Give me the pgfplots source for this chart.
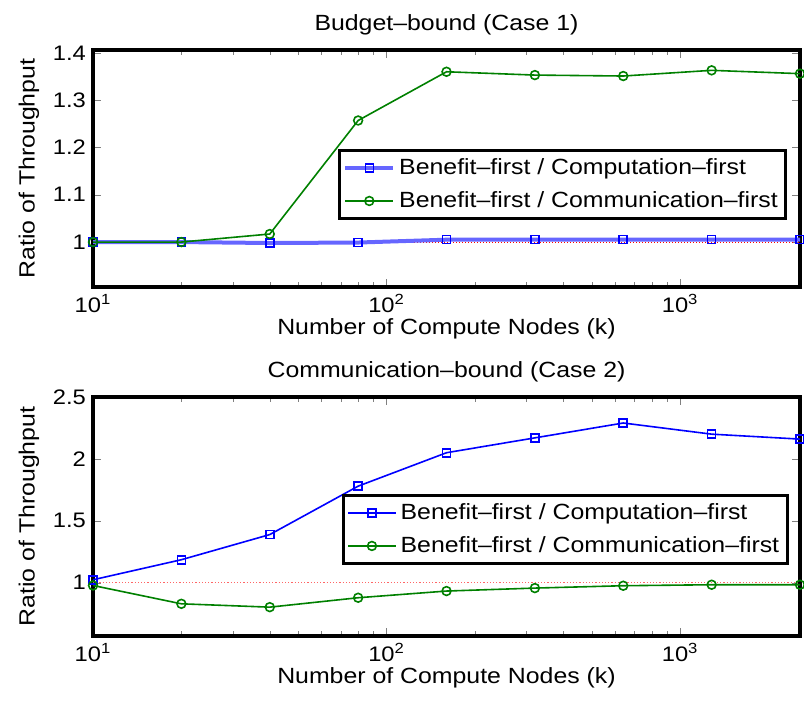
\documentclass[border=0pt]{standalone}
\usepackage{pgfplots}
\pgfplotsset{compat=1.18}
\usepackage{fontspec}
\setmainfont[FakeStretch=1.13]{Liberation Sans}
\definecolor{mblue}{rgb}{0,0,1}
\definecolor{mgreen}{rgb}{0,0.5,0}
\pgfplotsset{
  tick label style={font=\fontsize{10.5}{12}\selectfont},
  label style={font=\fontsize{11}{13}\selectfont},
  title style={font=\fontsize{11}{13}\selectfont},
  legend image code/.code={
      \draw[mark repeat=2,mark phase=2,#1] plot coordinates {(0cm,0cm) (0.42cm,0cm) (0.84cm,0cm)};},
}
\begin{document}
\begin{tikzpicture}
\path[use as bounding box] (-46.5pt,-208pt) rectangle (355.5pt,143.5pt);
\begin{axis}[xmode=log, scale only axis, width=353.5pt, height=118.5pt, at={(0pt,0pt)},
  xmin=10, xmax=2560, xtick={10,100,1000},
  xticklabels={10\textsuperscript{1},10\textsuperscript{2},10\textsuperscript{3}},
  tick align=inside, axis line style={line width=1.6pt},
  major tick length=4pt, minor tick length=2.5pt,
  /pgf/number format/assume math mode=true,
  xlabel={Number of Compute Nodes (k)}, ylabel={Ratio of Throughput},
  ylabel style={yshift=0pt}, xlabel style={yshift=4pt},
  legend cell align=left,
  legend style={draw=black, line width=1.5pt, font=\fontsize{11}{13}\selectfont,
      inner xsep=2pt, inner ysep=2pt, row sep=3pt, at={(0.982,0.582)}, anchor=north east},
  ymin=0.905, ymax=1.406, ytick={1,1.1,1.2,1.3,1.4},
  yticklabels={1,1.1,1.2,1.3,1.4},
  title={Budget--bound (Case 1)}, title style={yshift=-2pt}]
\addplot[red, densely dotted, line width=0.5pt, forget plot] coordinates {(10,1) (2560,1)};
\addplot[mblue!60, line width=2pt, mark=square, mark size=2pt, mark options={mblue, line width=0.8pt}]
  coordinates {(10,1.000) (20,1.000) (40,0.998) (80,0.999) (160,1.005) (320,1.005) (640,1.005) (1280,1.005) (2560,1.005)};
\addlegendentry{Benefit--first / Computation--first}
\addplot[mgreen, line width=0.8pt, mark=o, mark size=2.2pt, mark options={line width=0.8pt}]
  coordinates {(10,1.000) (20,1.000) (40,1.017) (80,1.257) (160,1.360) (320,1.353) (640,1.351) (1280,1.363) (2560,1.356)};
\addlegendentry{Benefit--first / Communication--first}
\end{axis}
\begin{axis}[xmode=log, scale only axis, width=353.5pt, height=119.5pt, at={(0pt,-174.5pt)},
  xmin=10, xmax=2560, xtick={10,100,1000},
  xticklabels={10\textsuperscript{1},10\textsuperscript{2},10\textsuperscript{3}},
  tick align=inside, axis line style={line width=1.6pt},
  major tick length=4pt, minor tick length=2.5pt,
  /pgf/number format/assume math mode=true,
  xlabel={Number of Compute Nodes (k)}, ylabel={Ratio of Throughput},
  ylabel style={yshift=0pt}, xlabel style={yshift=4pt},
  legend cell align=left,
  legend style={draw=black, line width=1.5pt, font=\fontsize{11}{13}\selectfont,
      inner xsep=2pt, inner ysep=2pt, row sep=3pt, at={(0.984,0.594)}, anchor=north east},
  ymin=0.57, ymax=2.5, ytick={1,1.5,2,2.5},
  yticklabels={1,1.5,2,2.5},
  title={Communication--bound (Case 2)}, title style={yshift=-2pt}]
\addplot[red!60, densely dotted, line width=0.6pt, forget plot] coordinates {(10,1) (2560,1)};
\addplot[mblue, line width=0.8pt, mark=square, mark size=2pt, mark options={line width=0.8pt}]
  coordinates {(10,1.024) (20,1.186) (40,1.389) (80,1.78) (160,2.05) (320,2.17) (640,2.29) (1280,2.20) (2560,2.16)};
\addlegendentry{Benefit--first / Computation--first}
\addplot[mgreen, line width=0.8pt, mark=o, mark size=2.2pt, mark options={line width=0.8pt}]
  coordinates {(10,0.978) (20,0.830) (40,0.803) (80,0.879) (160,0.933) (320,0.957) (640,0.976) (1280,0.984) (2560,0.984)};
\addlegendentry{Benefit--first / Communication--first}
\end{axis}
\end{tikzpicture}
\end{document}
